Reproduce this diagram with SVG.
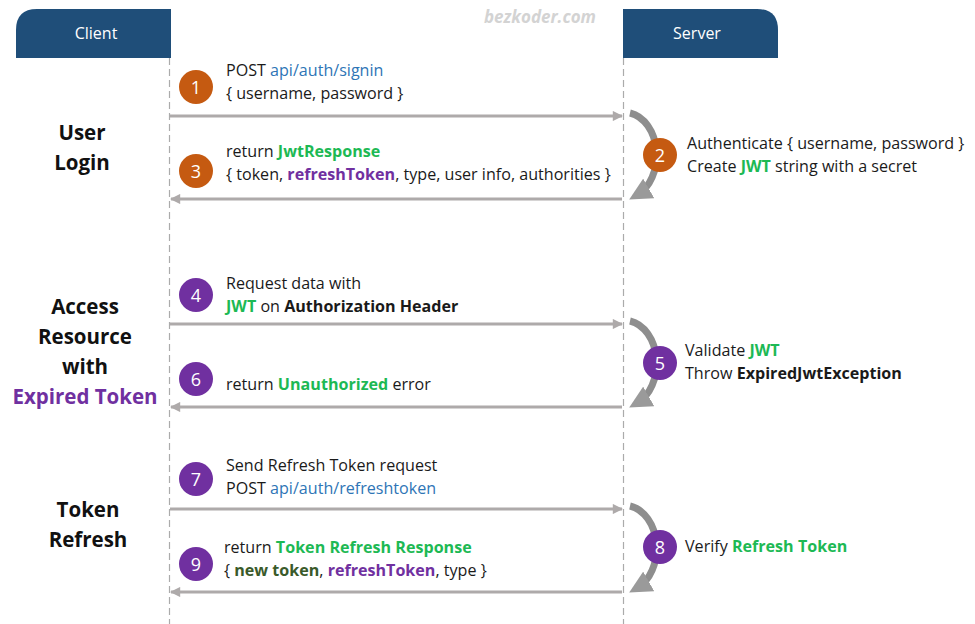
<svg xmlns="http://www.w3.org/2000/svg" width="975" height="624" viewBox="0 0 975 624">
  <style>
    text { font-family: "Open Sans", Lato, "Liberation Sans", sans-serif; }
    .hdr { fill: #1F4E79; }
    .hdr-t { fill: #FFFFFF; font-size: 16px; text-anchor: middle; }
    .life { stroke: #ABABAB; stroke-width: 1.2; stroke-dasharray: 7 4; fill: none; }
    .msg { stroke: #AEAAAA; stroke-width: 3; fill: none; }
    .loop { stroke: #8E8E8E; stroke-width: 7; fill: none; stroke-linecap: butt; }
    .t { font-size: 16.1px; fill: #1A1A1A; }
    .b { font-weight: bold; }
    .g { fill: #1DB954; font-weight: bold; }
    .gd { fill: #3A5A2A; font-weight: bold; }
    .p { fill: #7030A0; font-weight: bold; }
    .u { fill: #2E75B6; }
    .sec { font-size: 20.5px; font-weight: bold; fill: #111; text-anchor: middle; }
    .sec-p { fill: #7030A0; }
    .num { font-size: 18px; fill: #FFFFFF; text-anchor: middle; }
    .c-or { fill: #C55A11; }
    .c-pu { fill: #7030A0; }
  </style>
  <defs>
    <marker id="ah" viewBox="0 0 10 10" refX="9" refY="5" markerWidth="4" markerHeight="3.4" orient="auto" markerUnits="strokeWidth">
      <path d="M0,0 L10,5 L0,10 Z" fill="#AEAAAA"/>
    </marker>
    <marker id="ah2" viewBox="0 0 10 10" refX="6" refY="5" markerWidth="3.2" markerHeight="3.2" orient="auto" markerUnits="strokeWidth">
      <path d="M0,0 L10,5 L0,10 Z" fill="#9A9A9A"/>
    </marker>
  </defs>

  <rect width="975" height="624" fill="#FFFFFF"/>

  <!-- watermark -->
  <text x="540" y="23" text-anchor="middle" font-size="17" font-weight="bold" font-style="italic" fill="#D3D3D3">bezkoder.com</text>

  <!-- participants -->
  <g id="client">
    <path class="hdr" d="M16,58 L16,30 Q16,9 37,9 L171,9 L171,58 Z"/>
    <text class="hdr-t" x="96" y="39">Client</text>
  </g>
  <g id="server">
    <path class="hdr" d="M623,58 L623,9 L757,9 Q778,9 778,30 L778,58 Z"/>
    <text class="hdr-t" x="697" y="39">Server</text>
  </g>

  <!-- section labels -->
  <g id="section-login">
    <text class="sec" x="82" y="140">User</text>
    <text class="sec" x="82" y="170">Login</text>
  </g>
  <g id="section-access">
    <text class="sec" x="85" y="314">Access</text>
    <text class="sec" x="85" y="344">Resource</text>
    <text class="sec" x="85" y="374">with</text>
    <text class="sec sec-p" x="85" y="404">Expired Token</text>
  </g>
  <g id="section-refresh">
    <text class="sec" x="88" y="517">Token</text>
    <text class="sec" x="88" y="547">Refresh</text>
  </g>

  <!-- connectors -->
  <g id="connectors">
    <line class="life" x1="169.5" y1="58" x2="169.5" y2="624"/>
    <line class="life" x1="623.5" y1="58" x2="623.5" y2="624"/>

    <line class="msg" x1="170" y1="116" x2="622" y2="116" marker-end="url(#ah)"/>
    <line class="msg" x1="622" y1="199" x2="171" y2="199" marker-end="url(#ah)"/>
    <line class="msg" x1="170" y1="324" x2="622" y2="324" marker-end="url(#ah)"/>
    <line class="msg" x1="622" y1="407" x2="171" y2="407" marker-end="url(#ah)"/>
    <line class="msg" x1="170" y1="509" x2="622" y2="509" marker-end="url(#ah)"/>
    <line class="msg" x1="622" y1="592" x2="171" y2="592" marker-end="url(#ah)"/>

    <path class="loop" d="M630,113 A32,43 0 0 1 637,195" marker-end="url(#ah2)"/>
    <path class="loop" d="M630,321 A32,43 0 0 1 637,403" marker-end="url(#ah2)"/>
    <path class="loop" d="M630,506 A32,43 0 0 1 637,588" marker-end="url(#ah2)"/>
  </g>

  <!-- step 1 -->
  <g id="step1">
    <circle class="c-or" cx="196" cy="87" r="17"/>
    <text class="num" x="196" y="93.5">1</text>
    <text class="t" x="226" y="76">POST <tspan class="u">api/auth/signin</tspan></text>
    <text class="t" x="226" y="99">{ username, password }</text>
  </g>
  <!-- step 2 -->
  <g id="step2">
    <circle class="c-or" cx="660" cy="155" r="17"/>
    <text class="num" x="660" y="161.5">2</text>
    <text class="t" x="687" y="149">Authenticate { username, password }</text>
    <text class="t" x="687" y="172">Create <tspan class="g">JWT</tspan> string with a secret</text>
  </g>
  <!-- step 3 -->
  <g id="step3">
    <circle class="c-or" cx="196" cy="171" r="17"/>
    <text class="num" x="196" y="177.5">3</text>
    <text class="t" x="226" y="157">return <tspan class="g">JwtResponse</tspan></text>
    <text class="t" x="226" y="180">{ token, <tspan class="p">refreshToken</tspan>, type, user info, authorities }</text>
  </g>
  <!-- step 4 -->
  <g id="step4">
    <circle class="c-pu" cx="196" cy="295" r="17"/>
    <text class="num" x="196" y="301.5">4</text>
    <text class="t" x="226" y="289">Request data with</text>
    <text class="t" x="226" y="312"><tspan class="g">JWT</tspan> on <tspan class="b">Authorization Header</tspan></text>
  </g>
  <!-- step 5 -->
  <g id="step5">
    <circle class="c-pu" cx="660" cy="363" r="17"/>
    <text class="num" x="660" y="369.5">5</text>
    <text class="t" x="685" y="356">Validate <tspan class="g">JWT</tspan></text>
    <text class="t" x="685" y="379">Throw <tspan class="b">ExpiredJwtException</tspan></text>
  </g>
  <!-- step 6 -->
  <g id="step6">
    <circle class="c-pu" cx="196" cy="379" r="17"/>
    <text class="num" x="196" y="385.5">6</text>
    <text class="t" x="226" y="390">return <tspan class="g">Unauthorized</tspan> error</text>
  </g>
  <!-- step 7 -->
  <g id="step7">
    <circle class="c-pu" cx="196" cy="479" r="17"/>
    <text class="num" x="196" y="485.5">7</text>
    <text class="t" x="226" y="471">Send Refresh Token request</text>
    <text class="t" x="226" y="494">POST <tspan class="u">api/auth/refreshtoken</tspan></text>
  </g>
  <!-- step 8 -->
  <g id="step8">
    <circle class="c-pu" cx="660" cy="547" r="17"/>
    <text class="num" x="660" y="553.5">8</text>
    <text class="t" x="685" y="552">Verify <tspan class="g">Refresh Token</tspan></text>
  </g>
  <!-- step 9 -->
  <g id="step9">
    <circle class="c-pu" cx="196" cy="564" r="17"/>
    <text class="num" x="196" y="570.5">9</text>
    <text class="t" x="224" y="553">return <tspan class="g">Token Refresh Response</tspan></text>
    <text class="t" x="224" y="576">{ <tspan class="gd">new token</tspan>, <tspan class="p">refreshToken</tspan>, type }</text>
  </g>
</svg>
